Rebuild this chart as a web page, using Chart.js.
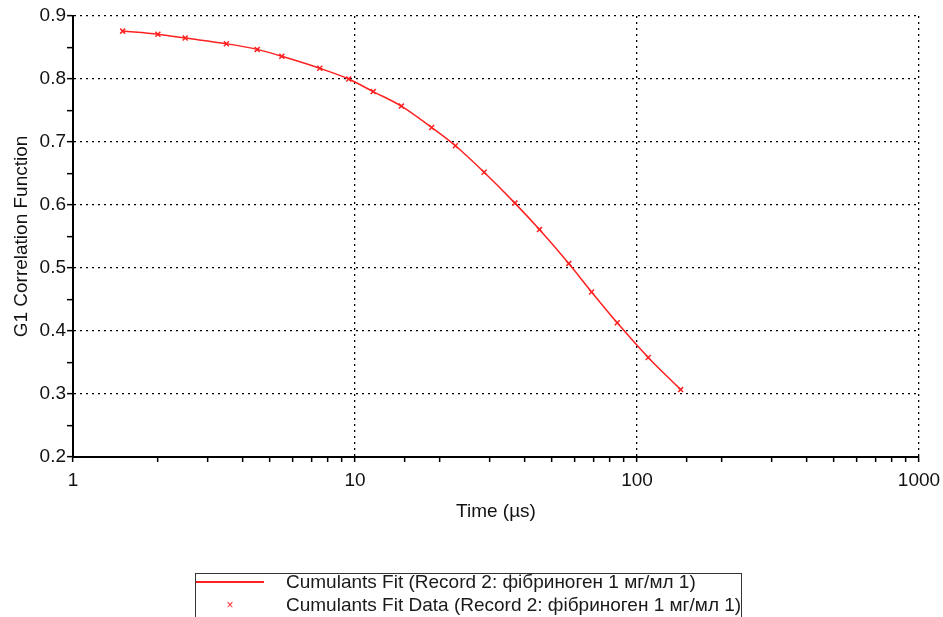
<!DOCTYPE html>
<html>
<head>
<meta charset="utf-8">
<script src="https://cdn.jsdelivr.net/npm/chart.js@4/dist/chart.umd.min.js"></script>
<style>
  html, body { margin: 0; padding: 0; background: #fff; overflow: hidden; }
  #wrap { position: relative; width: 943px; height: 617px; overflow: hidden; }
  #legend {
    position: absolute; left: 195px; top: 573px; width: 547px; height: 70px;
    border: 1px solid #333; box-sizing: border-box;
    font-family: "Liberation Sans", Arial, sans-serif; font-size: 19px; color: #1a1a1a;
  }
  .row { position: absolute; left: 0; height: 22px; line-height: 22px; white-space: nowrap; }
  .sample { position: absolute; left: 0; width: 68px; }
  .txt { position: absolute; left: 90px; }
</style>
</head>
<body>
<div id="wrap">
  <canvas id="c" width="943" height="617"></canvas>
  <div id="legend"></div>
</div>
<script>
// ---- data ----
const timeUs = [1.5, 2.0, 2.5, 3.5, 4.5, 5.5, 7.5, 9.5, 11.6, 14.6, 18.7, 22.7, 28.7, 36.9, 45.1, 57.3, 69.0, 85.1, 109.6, 142.8];
const g1Values = [0.876, 0.871, 0.865, 0.856, 0.847, 0.836, 0.817, 0.800, 0.780, 0.757, 0.723, 0.694, 0.652, 0.603, 0.561, 0.507, 0.462, 0.413, 0.358, 0.307];
const seriesNames = ["Cumulants Fit (Record 2: фібриноген 1 мг/мл 1)", "Cumulants Fit Data (Record 2: фібриноген 1 мг/мл 1)"];
const xAxisTitle = "Time (µs)";
const yAxisTitle = "G1 Correlation Function";
const xRange = [1, 1000];
const yRange = [0.2, 0.9];
const yStep = 0.05;

const points = timeUs.map((t, i) => ({ x: t, y: g1Values[i] }));
const isPow10 = v => Math.abs(Math.log10(v) - Math.round(Math.log10(v))) < 1e-9;
const isTenth = v => Math.round(v * 100) % 10 === 0;
const RED = '#ff2020';
const FONT = { family: '"Liberation Sans", Arial, sans-serif', size: 19 };

new Chart(document.getElementById('c'), {
  type: 'scatter',
  data: {
    datasets: [
      { label: seriesNames[0], data: points, showLine: true, borderColor: RED, borderWidth: 1.5,
        pointRadius: 0, tension: 0, cubicInterpolationMode: 'monotone', order: 2 },
      { label: seriesNames[1], data: points, showLine: false, borderColor: RED, backgroundColor: RED,
        pointStyle: 'crossRot', pointRadius: 3.5, borderWidth: 1.5, order: 1 }
    ]
  },
  options: {
    responsive: false, animation: false, devicePixelRatio: 1,
    layout: { padding: { top: 16, right: 24, bottom: 90, left: 0 } },
    plugins: { legend: { display: false }, tooltip: { enabled: false } },
    scales: {
      x: {
        type: 'logarithmic', min: xRange[0], max: xRange[1],
        afterFit: s => { s.height = 70; s.paddingLeft = 0; s.paddingRight = 0; },
        border: { display: true, color: '#000', width: 2, dash: [2, 4] },
        grid: {
          color: c => (c.tick && isPow10(c.tick.value) && c.tick.value !== xRange[0]) ? '#000' : 'rgba(0,0,0,0)',
          lineWidth: 1.3, tickColor: '#000', tickWidth: 1.5, tickLength: 5, drawTicks: true
        },
        ticks: {
          autoSkip: false, maxRotation: 0, minRotation: 0, padding: 7, color: '#111', font: FONT,
          callback: v => isPow10(v) ? String(Math.round(v)) : ''
        },
        title: { display: true, text: xAxisTitle, color: '#111', font: FONT }
      },
      y: {
        type: 'linear', min: yRange[0], max: yRange[1],
        afterFit: s => { s.width = 73; s.paddingTop = 0; s.paddingBottom = 0; },
        border: { display: true, color: '#000', width: 2, dash: [2, 4] },
        grid: {
          color: c => (c.tick && isTenth(c.tick.value) && Math.round(c.tick.value * 100) !== Math.round(yRange[0] * 100)) ? '#000' : 'rgba(0,0,0,0)',
          lineWidth: 1.3, tickColor: '#000', tickWidth: 1.5, tickLength: 6, drawTicks: true
        },
        ticks: {
          stepSize: yStep, autoSkip: false, padding: 1, color: '#111', font: FONT,
          callback: v => isTenth(v) ? v.toFixed(1) : ''
        },
        title: { display: true, text: yAxisTitle, color: '#111', font: FONT, padding: { top: 10, bottom: 4 } }
      }
    }
  }
});

// HTML legend built from the series names
const lg = document.getElementById('legend');
lg.innerHTML =
  '<div class="row" style="top:-3px"><div class="sample" style="top:10px;height:2px;background:' + RED + '"></div><span class="txt">' + seriesNames[0] + '</span></div>' +
  '<div class="row" style="top:20px"><div class="sample" style="top:0;text-align:center;color:' + RED + ';font-size:12px">×</div><span class="txt">' + seriesNames[1] + '</span></div>';
</script>
</body>
</html>
